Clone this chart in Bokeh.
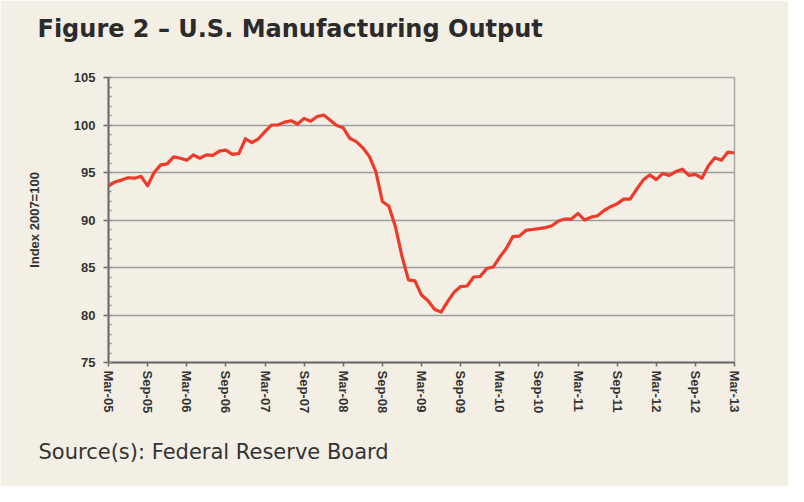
from bokeh.plotting import figure
from bokeh.models import FixedTicker, SingleIntervalTicker, Range1d, Title
from bokeh.embed import file_html
from bokeh.resources import INLINE

# ---- data (monthly, Mar-2005 .. Mar-2013, index 2007=100) ----
values = [
    93.6, 94.0, 94.2, 94.45, 94.4, 94.6, 93.6, 95.0, 95.8, 95.9,
    96.65, 96.5, 96.3, 96.85, 96.5, 96.85, 96.8, 97.25, 97.35, 96.9,
    97.0, 98.55, 98.15, 98.55, 99.3, 100.0, 100.0, 100.3, 100.45, 100.1,
    100.7, 100.4, 100.9, 101.05, 100.5, 99.95, 99.7, 98.6, 98.25, 97.6,
    96.7, 95.1, 91.95, 91.45, 89.3, 86.2, 83.7, 83.6, 82.1, 81.5,
    80.6, 80.3, 81.4, 82.4, 83.0, 83.05, 84.0, 84.05, 84.9, 85.05,
    86.1, 87.0, 88.25, 88.3, 88.9, 89.0, 89.1, 89.2, 89.4, 89.9,
    90.1, 90.1, 90.7, 90.0, 90.3, 90.45, 91.0, 91.4, 91.7, 92.2,
    92.2, 93.25, 94.2, 94.75, 94.25, 94.9, 94.7, 95.1, 95.35, 94.7,
    94.8, 94.4, 95.7, 96.55, 96.3, 97.15, 97.05,
]
months = list(range(len(values)))
tick_positions = list(range(0, 97, 6))
tick_labels = ["Mar-05", "Sep-05", "Mar-06", "Sep-06", "Mar-07", "Sep-07",
               "Mar-08", "Sep-08", "Mar-09", "Sep-09", "Mar-10", "Sep-10",
               "Mar-11", "Sep-11", "Mar-12", "Sep-12", "Mar-13"]
title_text = "Figure 2 \u2013 U.S. Manufacturing Output"
source_text = "Source(s): Federal Reserve Board"
y_label = "Index 2007=100"

BG = "#F3EFE5"
W, H = 788, 486

p = figure(width=W, height=H, output_backend="svg", toolbar_location=None,
           x_range=Range1d(0, 96), y_range=Range1d(75, 105),
           min_border_left=108, min_border_right=54,
           min_border_top=77, min_border_bottom=124)
p.background_fill_color = BG
p.border_fill_color = BG
p.outline_line_color = "#A8A8A8"
p.outline_line_width = 1.5

p.line(months, values, line_color="#EE3A2A", line_width=3.2, line_join="round")

# grid
p.xgrid.grid_line_color = None
p.ygrid.grid_line_color = "#9C9C9C"
p.ygrid.grid_line_width = 1.5

# y axis
ya = p.yaxis[0]
ya.ticker = SingleIntervalTicker(interval=5, num_minor_ticks=5)
ya.axis_line_color = "#6A6A6A"
ya.axis_line_width = 2
ya.major_tick_line_color = "#6A6A6A"
ya.major_tick_line_width = 1.5
ya.major_tick_out = 5
ya.major_tick_in = 0
ya.minor_tick_line_color = "#8A8A8A"
ya.minor_tick_line_width = 1.5
ya.minor_tick_in = 3
ya.minor_tick_out = 0
ya.major_label_text_font = "Liberation Sans"
ya.major_label_text_font_style = "bold"
ya.major_label_text_font_size = "13px"
ya.major_label_text_color = "#333333"
ya.major_label_standoff = 8
ya.axis_label = y_label
ya.axis_label_text_font = "Liberation Sans"
ya.axis_label_text_font_style = "bold"
ya.axis_label_text_font_size = "13px"
ya.axis_label_text_color = "#333333"
ya.axis_label_standoff = 29

# x axis
xa = p.xaxis[0]
xa.ticker = FixedTicker(ticks=tick_positions, minor_ticks=[])
xa.major_label_overrides = {t: l for t, l in zip(tick_positions, tick_labels)}
xa.major_label_orientation = "vertical"
xa.axis_line_color = "#6A6A6A"
xa.axis_line_width = 2
xa.major_tick_line_color = "#6A6A6A"
xa.major_tick_line_width = 1.5
xa.major_tick_out = 4
xa.major_tick_in = 0
xa.minor_tick_line_color = None
xa.major_label_text_font = "Liberation Sans"
xa.major_label_text_font_style = "bold"
xa.major_label_text_font_size = "13px"
xa.major_label_text_color = "#333333"
xa.major_label_standoff = 4

# spacer between frame and title (nearest the frame), then the title
p.add_layout(Title(text=" ", text_font_size="10px", standoff=22), "above")
p.add_layout(Title(text=title_text, align="left", offset=-71,
                   text_font="DejaVu Sans", text_font_style="bold",
                   text_font_size="24px", text_color="#2B2B2B",
                   standoff=0), "above")
# source below
p.add_layout(Title(text=source_text, align="left", offset=-70,
                   text_font="DejaVu Sans", text_font_style="normal",
                   text_font_size="21px", text_color="#333333",
                   standoff=42), "below")

open("out.html", "w").write(file_html(p, INLINE))
